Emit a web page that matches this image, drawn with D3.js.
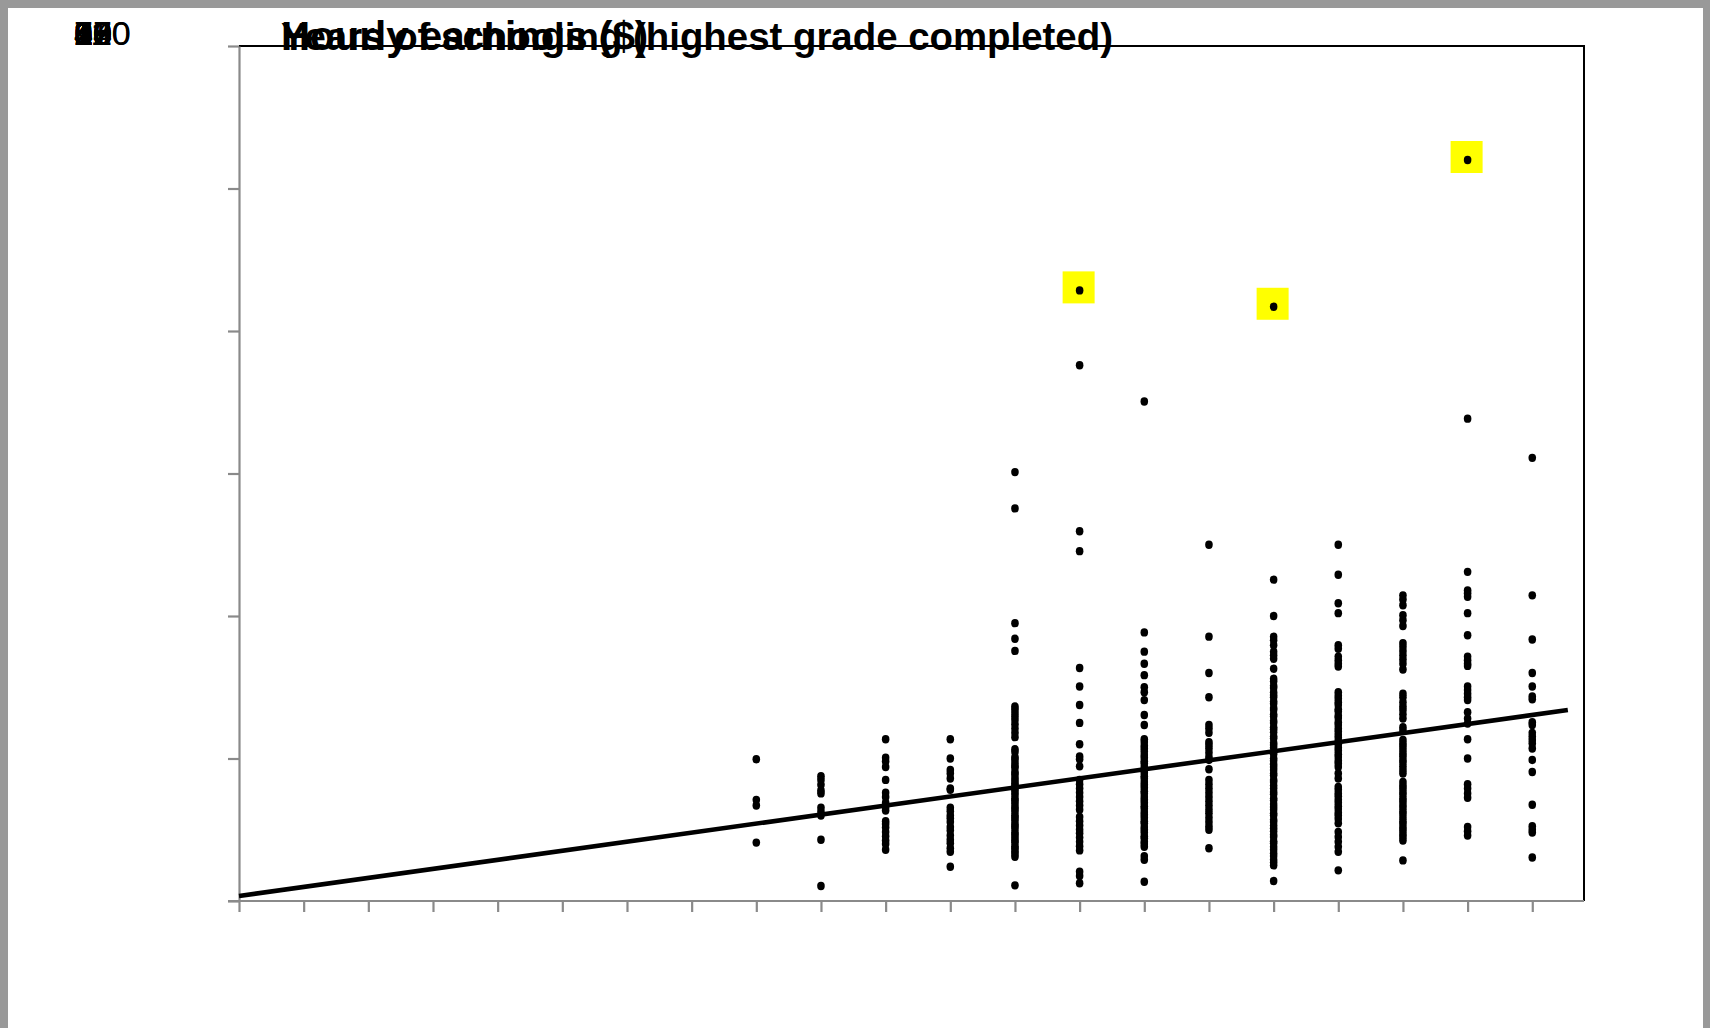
<!DOCTYPE html>
<html>
<head>
<meta charset="utf-8">
<script src="https://cdn.jsdelivr.net/npm/d3@7"></script>
<style>
  html, body { margin: 0; padding: 0; background: #999999; }
  svg { display: block; }
</style>
</head>
<body>
<svg id="chart" width="1710" height="1028"></svg>
<script>
// Years of schooling observed in the sample
const schoolingYears = [8, 9, 10, 11, 12, 13, 14, 15, 16, 17, 18, 19, 20];

// Hourly earnings ($) for each schooling level
const earningsS8 = [19.9, 14.2, 13.4, 8.2];
const earningsS9 = [17.5, 17.0, 16.3, 15.5, 15.1, 13.1, 12.5, 12.0, 8.6, 2.1];
const earningsS10 = [22.7, 20.1, 19.6, 18.8, 17.0, 15.2, 14.6, 13.8, 13.2, 12.7, 11.2, 10.8, 10.3, 9.7, 9.1, 8.5, 8.0, 7.2];
const earningsS11 = [22.7, 20.0, 18.4, 17.9, 17.2, 15.8, 15.6, 13.1, 12.6, 12.0, 11.6, 11.1, 10.4, 9.9, 9.2, 8.6, 8.1, 7.4, 6.9, 4.8];
const earningsS12 = [60.2, 55.1, 39.0, 36.8, 35.1, 27.3, 26.9, 26.4, 25.9, 25.4, 24.8, 24.2, 23.6, 23.0,
  21.3, 20.9, 20.2, 19.9, 19.4, 19.0, 18.7, 18.1, 17.8, 17.3, 16.9, 16.5, 16.2, 15.7, 15.3, 14.9, 14.4,
  14.1, 13.7, 13.2, 12.9, 12.5, 12.0, 11.7, 11.3, 10.8, 10.5, 10.1, 9.6, 9.3, 8.9, 8.5, 8.2, 7.7, 7.4,
  7.0, 6.6, 6.2, 2.2];
const earningsS13 = [85.7, 75.2, 51.9, 49.1, 32.7, 30.1, 27.5, 25.0, 22.0, 20.3, 19.9, 18.9, 17.0, 16.4,
  15.8, 15.2, 14.6, 14.0, 13.4, 12.8, 11.8, 11.2, 10.6, 10.0, 9.5, 8.9, 8.3, 7.7, 7.1, 4.1, 3.5, 2.5];
const earningsS14 = [70.1, 37.7, 35.0, 33.3, 31.7, 30.0, 29.3, 28.2, 26.1, 24.7, 22.7, 22.3, 21.8, 21.4,
  21.0, 20.5, 20.1, 19.6, 19.3, 18.8, 18.4, 18.0, 17.5, 17.2, 16.7, 16.3, 15.9, 15.4, 15.1, 14.6, 14.2,
  13.8, 13.3, 13.0, 12.5, 12.1, 11.7, 11.2, 10.9, 10.4, 10.0, 9.6, 9.1, 8.8, 8.3, 8.0, 7.6, 6.3, 5.8, 2.7];
const earningsS15 = [50.0, 37.1, 32.0, 28.6, 24.7, 24.2, 23.6, 22.3, 21.9, 21.4, 20.8, 20.2, 19.8, 18.5,
  17.0, 16.4, 15.8, 15.2, 14.6, 14.0, 13.4, 12.8, 12.3, 11.7, 11.1, 10.5, 10.0, 7.4];
const earningsS16 = [83.4, 45.1, 40.0, 37.1, 36.6, 35.9, 35.0, 34.5, 34.0, 32.6, 31.2, 30.8, 30.2, 29.9,
  29.3, 28.9, 28.6, 28.0, 27.7, 27.1, 26.8, 26.2, 25.9, 25.3, 25.0, 24.4, 24.1, 23.7, 23.1, 22.8, 22.2,
  21.9, 21.5, 20.9, 20.6, 20.0, 19.7, 19.2, 18.8, 18.4, 17.9, 17.6, 17.0, 16.7, 16.2, 15.8, 15.3, 15.0,
  14.4, 14.1, 13.6, 13.2, 12.8, 12.3, 12.0, 11.4, 11.1, 10.6, 10.2, 9.8, 9.3, 9.0, 8.4, 8.1, 7.6, 7.2,
  6.7, 6.3, 5.8, 5.4, 5.0, 2.8];
const earningsS17 = [50.0, 45.8, 41.8, 40.4, 35.9, 35.4, 34.3, 33.8, 33.3, 32.9, 29.3, 28.8, 28.4, 27.9,
  27.5, 26.9, 26.6, 26.0, 25.7, 25.1, 24.7, 24.2, 23.8, 23.3, 22.9, 22.4, 22.0, 21.5, 21.1, 20.6, 20.2,
  19.7, 19.3, 18.8, 17.9, 17.2, 16.0, 15.6, 15.1, 14.7, 14.2, 13.8, 13.3, 12.9, 12.4, 12.0, 11.5, 10.9,
  9.7, 9.0, 8.3, 7.6, 6.9, 4.3];
const earningsS18 = [42.9, 42.3, 41.5, 40.1, 39.4, 38.6, 36.2, 35.7, 35.1, 34.5, 33.9, 33.3, 32.5, 29.1,
  28.6, 27.9, 27.3, 26.8, 26.2, 25.6, 24.4, 23.9, 22.6, 22.1, 21.7, 21.2, 20.7, 20.3, 19.8, 19.4, 18.9,
  18.4, 17.9, 16.7, 16.2, 15.8, 15.3, 14.9, 14.4, 14.0, 13.5, 13.1, 12.6, 12.2, 11.7, 11.2, 10.8, 10.3,
  9.9, 9.4, 9.0, 8.5, 5.7];
const earningsS19 = [104.0, 67.7, 46.2, 43.6, 43.2, 42.7, 40.4, 37.3, 34.3, 33.8, 33.3, 33.0, 30.1, 29.6,
  29.1, 28.6, 28.2, 26.5, 25.6, 24.9, 22.7, 20.0, 16.4, 15.8, 15.1, 14.5, 10.4, 9.8, 9.2];
const earningsS20 = [62.2, 42.9, 36.7, 32.0, 30.1, 28.7, 28.3, 25.1, 24.7, 23.6, 23.1, 22.6, 22.1, 21.4,
  19.8, 18.1, 13.5, 10.5, 10.0, 9.6, 6.1];

const earningsColumns = [earningsS8, earningsS9, earningsS10, earningsS11, earningsS12, earningsS13,
  earningsS14, earningsS15, earningsS16, earningsS17, earningsS18, earningsS19, earningsS20];

// Observations marked with a highlight box: [schooling, earnings]
const highlightedPoints = [[13, 85.7], [16, 83.4], [19, 104.0]];

// Fitted regression line: earnings = intercept + slope * schooling
const fitIntercept = 0.7;
const fitSlope = 1.27;
const fitRange = [0, 20.55];

// Axis ticks and labels
const xTickValues = d3.range(0, 21, 1);
const xTickLabels = xTickValues.map(String);
const yTickValues = [0, 20, 40, 60, 80, 100, 120];
const yTickLabels = ["0", "20", "40", "60", "80", "100", "120"];

const xTitle = "Years of schooling (highest grade completed)";
const yTitle = "Hourly earnings ($)";

// ---- layout ----
const W = 1710, H = 1028;
const plot = { left: 239, top: 46, right: 1584, bottom: 901 };

const svg = d3.select("#chart");

// page frame
svg.append("rect").attr("x", 0).attr("y", 0).attr("width", W).attr("height", H).attr("fill", "#999999");
svg.append("rect").attr("x", 8).attr("y", 8).attr("width", 1695).attr("height", H).attr("fill", "#ffffff");

const x = d3.scaleLinear().domain([0, 20.8]).range([plot.left, plot.right]);
const y = d3.scaleLinear().domain([0, 120]).range([plot.bottom, plot.top]);

// plot area border (top and right) in black
svg.append("path")
  .attr("d", `M${plot.left},${plot.top}H${plot.right}V${plot.bottom}`)
  .attr("fill", "none")
  .attr("stroke", "#000")
  .attr("stroke-width", 2);

// y axis (grey, outward ticks, labels drawn separately)
const yAxis = svg.append("g")
  .attr("transform", `translate(${plot.left},0)`)
  .call(d3.axisLeft(y).tickValues(yTickValues).tickSize(11).tickSizeOuter(0).tickFormat(""));
yAxis.select(".domain").attr("stroke", "#8a8a8a").attr("stroke-width", 2.2);
yAxis.selectAll(".tick line").attr("stroke", "#8a8a8a").attr("stroke-width", 2.2);

// x axis
const xAxis = svg.append("g")
  .attr("transform", `translate(0,${plot.bottom})`)
  .call(d3.axisBottom(x).tickValues(xTickValues).tickSize(11).tickSizeOuter(0).tickFormat(""));
xAxis.select(".domain").attr("stroke", "#8a8a8a").attr("stroke-width", 2.2)
  .attr("d", `M${plot.left - 11},0H${plot.right}`);
xAxis.selectAll(".tick line").attr("stroke", "#8a8a8a").attr("stroke-width", 2.2);

// tick labels of both axes, all stacked at one spot in the corner
svg.append("g")
  .selectAll("text")
  .data(yTickLabels.concat(xTickLabels))
  .join("text")
  .attr("x", 74)
  .attr("y", 45)
  .attr("font-family", "Liberation Sans, Arial, sans-serif")
  .attr("font-size", 34)
  .attr("fill", "#000")
  .text(d => d);

// highlight boxes behind the marked points
svg.append("g")
  .selectAll("rect")
  .data(highlightedPoints)
  .join("rect")
  .attr("x", d => x(d[0]) - 17)
  .attr("y", d => y(d[1]) - 19)
  .attr("width", 32)
  .attr("height", 32)
  .attr("fill", "#ffff00");

// regression line
const fitLine = d3.line().x(d => x(d)).y(d => y(fitIntercept + fitSlope * d));
svg.append("path")
  .attr("d", fitLine(fitRange))
  .attr("fill", "none")
  .attr("stroke", "#000")
  .attr("stroke-width", 4.6);

// scatter points
const points = schoolingYears.flatMap((s, i) => earningsColumns[i].map(e => [s, e]));
svg.append("g")
  .selectAll("ellipse")
  .data(points)
  .join("ellipse")
  .attr("cx", d => x(d[0]))
  .attr("cy", d => y(d[1]))
  .attr("rx", 3.8)
  .attr("ry", 4.2)
  .attr("fill", "#000");

// axis titles, both written along the top
const titleFont = "Liberation Sans, Arial, sans-serif";
[[xTitle, 38.4], [yTitle, 40.3]].forEach(([t, size]) => {
  svg.append("text")
    .attr("x", 281)
    .attr("y", 50)
    .attr("font-family", titleFont)
    .attr("font-weight", "bold")
    .attr("font-size", size)
    .attr("fill", "#000")
    .text(t);
});
</script>
</body>
</html>
